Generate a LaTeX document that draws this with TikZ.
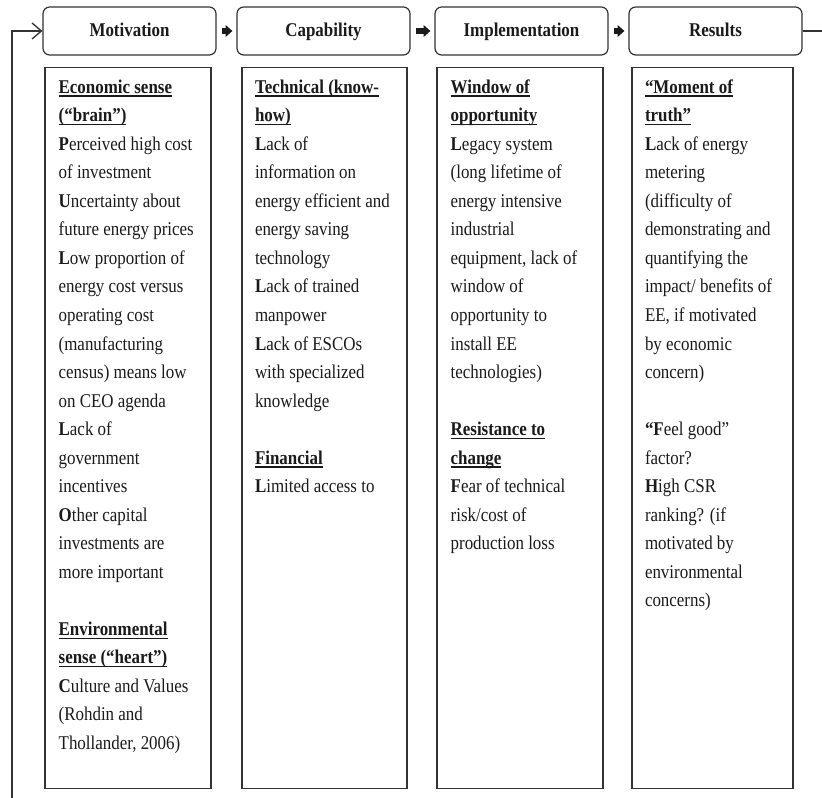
\documentclass[tikz,border=0pt]{standalone}
\usepackage{fontspec}
\setmainfont{Liberation Serif}[FakeStretch=0.87]
\usetikzlibrary{arrows.meta}

\newsavebox{\hdbox}
\newcommand{\hd}[1]{\textbf{\sbox{\hdbox}{#1}\rlap{\rule[-2.6pt]{\wd\hdbox}{1pt}}\usebox{\hdbox}}}
\newcommand{\fl}[1]{\textbf{#1}}

\definecolor{linegray}{HTML}{333333}
\definecolor{inkgray}{HTML}{1A1A1A}

\tikzset{
  stage/.style={draw=linegray, line width=0.9pt, rounded corners=5pt,
    minimum width=129.75pt, minimum height=36pt, text=inkgray,
    text height=11pt, text depth=2pt,
    font=\fontsize{14.6}{16}\selectfont\bfseries},
  colbox/.style={draw=linegray, line width=0.9pt, minimum height=540.75pt,
    anchor=north, inner sep=0pt},
  coltext/.style={anchor=north west, align=left, inner sep=0pt, text=inkgray,
    font=\fontsize{14.6}{21.4}\selectfont},
  stagearrow/.style={draw=inkgray, line width=5pt,
    -{Triangle[length=5pt,width=8.5pt]}, shorten <=4pt, shorten >=3pt},
  loopline/.style={draw=linegray, line width=1pt}
}

\begin{document}
\begin{tikzpicture}[x=0.75pt, y=-0.75pt]
    \useasboundingbox (0,0) rectangle (822,798);

    % stages
    \node[stage] (mot) at (129.5,31) {Motivation};
    \node[stage] (cap) at (323.5,31) {Capability};
    \node[stage] (imp) at (521.5,31) {Implementation};
    \node[stage] (res) at (715.5,31) {Results};

    \foreach \a/\b in {mot/cap, cap/imp, imp/res} {
        \draw[stagearrow] (\a) -- (\b);
    }

    % feedback loop
    \coordinate (loopout) at (822,31);
    \coordinate (loopin) at (12,798);
    \draw[loopline] (res.east) -- (loopout);
    \draw[loopline, -{Straight Barb[length=7pt,width=12pt]}] (loopin) |- (mot.west);

    % barrier columns
    \node[colbox, minimum width=124.5pt] (motbox) at (128,67) {};
    \node[colbox, minimum width=123.75pt] (capbox) at (324.5,67) {};
    \node[colbox, minimum width=124.5pt] (impbox) at (520,67) {};
    \node[colbox, minimum width=120.75pt] (resbox) at (712.5,67) {};

    \node[coltext] (mottext) at ([xshift=10.5pt,yshift=-4.5pt]motbox.north west) {\strut\hd{Economic sense}\\
        \hd{(“brain”)}\\
        \fl{P}erceived high cost\\
        of investment\\
        \fl{U}ncertainty about\\
        future energy prices\\
        \fl{L}ow proportion of\\
        energy cost versus\\
        operating cost\\
        (manufacturing\\
        census) means low\\
        on CEO agenda\\
        \fl{L}ack of\\
        government\\
        incentives\\
        \fl{O}ther capital\\
        investments are\\
        more important\\[21.4pt]
        \hd{Environmental}\\
        \hd{sense (“heart”)}\\
        \fl{C}ulture and Values\\
        (Rohdin and\\
        Thollander, 2006)};

    \node[coltext] (captext) at ([xshift=10pt,yshift=-4.5pt]capbox.north west) {\strut\hd{Technical (know-}\\
        \hd{how)}\\
        \fl{L}ack of\\
        information on\\
        energy efficient and\\
        energy saving\\
        technology\\
        \fl{L}ack of trained\\
        manpower\\
        \fl{L}ack of ESCOs\\
        with specialized\\
        knowledge\\[21.4pt]
        \hd{Financial}\\
        \fl{L}imited access to};

    \node[coltext] (imptext) at ([xshift=10.5pt,yshift=-4.5pt]impbox.north west) {\strut\hd{Window of}\\
        \hd{opportunity}\\
        \fl{L}egacy system\\
        (long lifetime of\\
        energy intensive\\
        industrial\\
        equipment, lack of\\
        window of\\
        opportunity to\\
        install EE\\
        technologies)\\[21.4pt]
        \hd{Resistance to}\\
        \hd{change}\\
        \fl{F}ear of technical\\
        risk/cost of\\
        production loss};

    \node[coltext] (restext) at ([xshift=10pt,yshift=-4.5pt]resbox.north west) {\strut\hd{“Moment of}\\
        \hd{truth”}\\
        \fl{L}ack of energy\\
        metering\\
        (difficulty of\\
        demonstrating and\\
        quantifying the\\
        impact/ benefits of\\
        EE, if motivated\\
        by economic\\
        concern)\\[21.4pt]
        \fl{“F}eel good”\\
        factor?\\
        \fl{H}igh CSR\\
        ranking? (if\\
        motivated by\\
        environmental\\
        concerns)};
\end{tikzpicture}
\end{document}
